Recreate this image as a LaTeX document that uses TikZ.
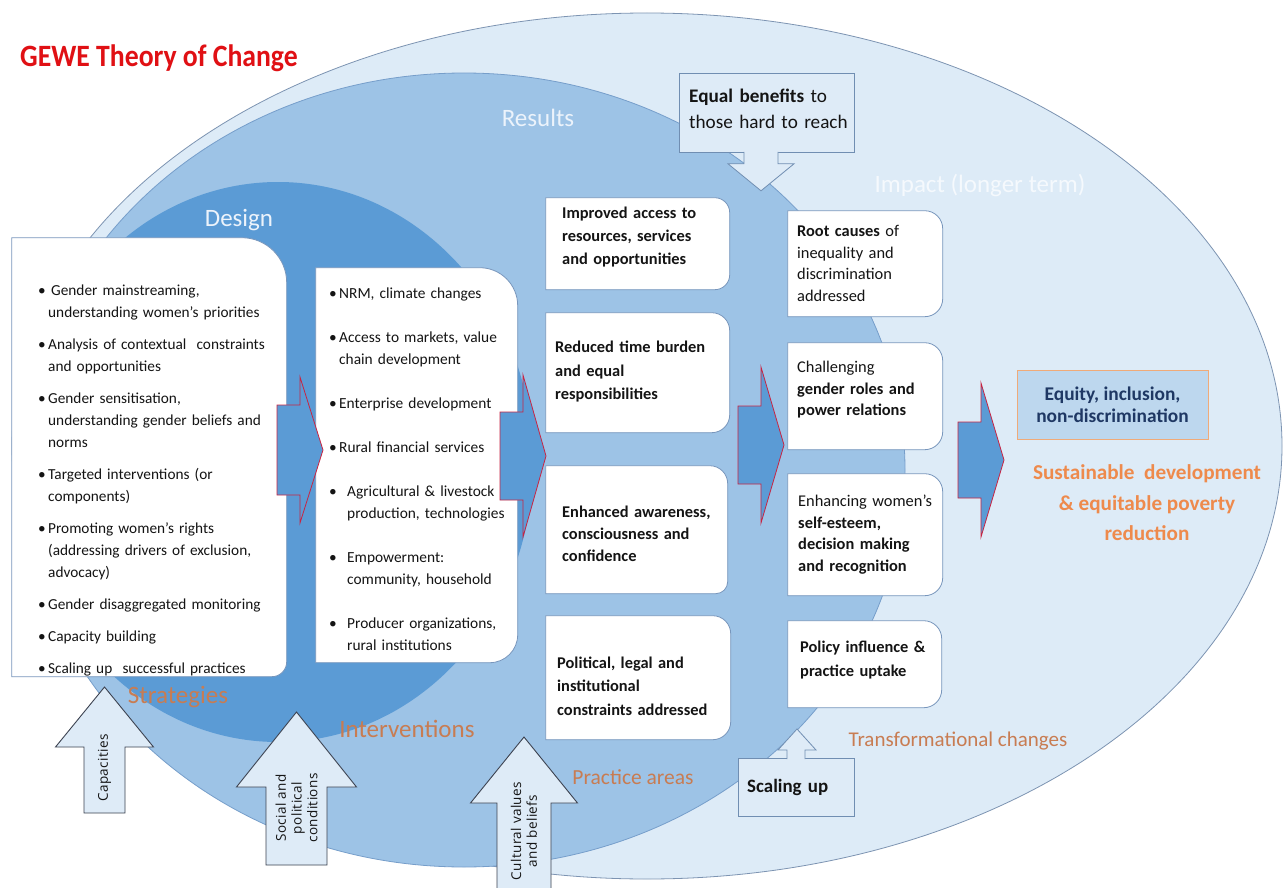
\documentclass[tikz,border=0pt]{standalone}
\usepackage{fontspec}
\setmainfont{Carlito}
\newfontfamily\arrowfont{Open Sans}
\usetikzlibrary{calc}

\definecolor{outerblue}{RGB}{221,235,247}
\definecolor{outerline}{RGB}{125,148,178}
\definecolor{resultblue}{RGB}{157,195,230}
\definecolor{resultline}{RGB}{118,158,202}
\definecolor{designblue}{RGB}{91,155,213}
\definecolor{boxline}{RGB}{120,150,188}
\definecolor{arrowred}{RGB}{200,36,66}
\definecolor{calloutblue}{RGB}{222,235,247}
\definecolor{calloutline}{RGB}{112,142,178}
\definecolor{uparrline}{RGB}{60,66,80}
\definecolor{titlered}{RGB}{224,16,20}
\definecolor{labelorange}{RGB}{200,124,82}
\definecolor{goalorange}{RGB}{238,138,76}
\definecolor{equityblue}{RGB}{189,215,238}
\definecolor{equityline}{RGB}{240,170,120}
\definecolor{equitytext}{RGB}{31,56,100}
\definecolor{textdark}{RGB}{20,20,20}
\definecolor{pale}{RGB}{236,243,251}

\newlength\bulgap
\newcommand\bul[2][10pt]{\par\hangindent=#1\hangafter=1\noindent\makebox[#1][l]{\textbullet}#2\par\vspace{\bulgap}}

\begin{document}
\begin{tikzpicture}[x=1pt,y=-1pt]
\tikzset{rbox/.style 2 args={inner sep=0pt, anchor=north west, path picture={
    \path[fill=white, draw=boxline, line width=0.8pt]
      ([shift={(0.5pt,-0.5pt)}]path picture bounding box.north west)
      [rounded corners=#1] -- ([shift={(-0.5pt,-0.5pt)}]path picture bounding box.north east)
      [rounded corners=#2] -- ([shift={(-0.5pt,0.5pt)}]path picture bounding box.south east)
      [sharp corners] -- ([shift={(0.5pt,0.5pt)}]path picture bounding box.south west)
      -- cycle;}}}
\tikzset{listtext/.style={inner sep=0pt, anchor=base west, text width=#1, align=left, text=textdark}}
\tikzset{c3text/.style={inner sep=0pt, anchor=base west, text width=180, align=left, text=textdark, font=\bfseries\fontsize{16.4}{23.5}\selectfont}}
\tikzset{c4text/.style={inner sep=0pt, anchor=base west, text width=150, align=left, text=textdark, font=\fontsize{16.4}{21.7}\selectfont}}
\tikzset{stagelabel/.style={inner sep=0pt, anchor=base, font=\fontsize{25}{30}\selectfont}}
\tikzset{blockarr/.style={fill=designblue, draw=arrowred, line width=0.8pt}}
\tikzset{callbox/.style={inner sep=0pt, anchor=north west, fill=calloutblue, draw=calloutline, line width=0.8pt}}
\tikzset{callpointer/.style={fill=calloutblue, draw=calloutline, line width=0.8pt}}
\tikzset{calltext/.style={inner sep=0pt, anchor=base west, text width=170, align=left, text=textdark, font=\fontsize{19.2}{25}\selectfont}}
\tikzset{uparr/.style={fill=calloutblue, draw=uparrline, line width=0.9pt}}
\tikzset{uptext/.style={inner sep=0pt, rotate=90, align=center, text=textdark, font=\arrowfont\addfontfeature{LetterSpace=3}\fontsize{13.5}{15.8}\selectfont}}

\useasboundingbox (0,0) rectangle (1285,888);
\fill[white] (0,0) rectangle (1285,888);

% the three stages
\draw[outerline, fill=outerblue, line width=0.8pt] (647,446) ellipse [x radius=635, y radius=433];
\draw[resultline, fill=resultblue, line width=0.8pt] (464,470) ellipse [x radius=441, y radius=397];
\fill[designblue] (278,462) ellipse [x radius=255, y radius=280];

\node[inner sep=0pt, anchor=base west, text=titlered, yscale=1.12, transform shape, font=\bfseries\fontsize{27.7}{33}\selectfont] (title) at (20,67) {GEWE Theory of Change};
\node[stagelabel, text=pale] (results) at (538,127) {Results};
\node[stagelabel, text=pale] (design) at (239,226) {Design};
\node[stagelabel, text=white!70!outerblue] (impact) at (980,192) {Impact (longer term)};
\node[stagelabel, text=labelorange] (strategies) at (178,703) {Strategies};
\node[stagelabel, text=labelorange] (interventions) at (407,737) {Interventions};
\node[stagelabel, text=labelorange, font=\fontsize{21.5}{26}\selectfont] (practice) at (633,784) {Practice areas};
\node[stagelabel, text=labelorange, font=\fontsize{21}{26}\selectfont] (transform) at (958,746) {Transformational changes};

% strategies
\node[rbox={45}{15}, minimum width=276, minimum height=440] (strat) at (11,237) {};
\node[listtext=245, font=\fontsize{15.3}{22}\selectfont, execute at begin node={\setlength{\bulgap}{10pt}}] (strat-list) at ([shift={(27,36.6)}]strat.north west) {%
\bul{\hspace{3pt}Gender mainstreaming,\newline understanding women’s priorities}
\bul{Analysis of contextual~ constraints\newline and opportunities}
\bul{Gender sensitisation,\newline understanding gender beliefs and\newline norms}
\bul{Targeted interventions (or\newline components)}
\bul{Promoting women’s rights\newline (addressing drivers of exclusion,\newline advocacy)}
\bul{Gender disaggregated monitoring}
\bul{Capacity building}
\bul{Scaling up~ successful practices}};

% interventions
\node[rbox={38}{28}, minimum width=203, minimum height=396] (interv) at (315,267) {};
\node[listtext=186, font=\fontsize{15.4}{22}\selectfont, execute at begin node={\setlength{\bulgap}{22pt}}] (interv-list) at ([shift={(14,9.6)}]interv.north west) {%
\bul{NRM, climate changes}
\bul{Access to markets, value\newline chain development}
\bul{Enterprise development}
\bul{Rural financial services}
\bul[18pt]{Agricultural \& livestock\newline production, technologies}
\bul[18pt]{Empowerment:\newline community, household}
\bul[18pt]{Producer organizations,\newline rural institutions}};

% practice areas
\node[rbox={15}{15}, minimum width=185, minimum height=93] (access) at (545,197) {};
\node[c3text] (access-t) at ([shift={(17,21)}]access.north west) {Improved access to\\resources, services\\and opportunities};
\node[rbox={18}{18}, minimum width=185, minimum height=121] (burden) at (545,312) {};
\node[c3text] (burden-t) at ([shift={(10,40.5)}]burden.north west) {Reduced time burden\\and equal\\responsibilities};
\node[rbox={18}{12}, minimum width=183, minimum height=129] (aware) at (545,465) {};
\node[c3text, font=\bfseries\fontsize{16.4}{22}\selectfont] (aware-t) at ([shift={(17,52.5)}]aware.north west) {Enhanced awareness,\\consciousness and\\confidence};
\node[rbox={18}{18}, minimum width=186, minimum height=125] (legal) at (545,615) {};
\node[c3text] (legal-t) at ([shift={(12,53)}]legal.north west) {Political, legal and\\institutional\\constraints addressed};

% transformational changes
\node[rbox={18}{18}, minimum width=156, minimum height=107] (roots) at (787,210) {};
\node[c4text] (roots-t) at ([shift={(10,26.5)}]roots.north west) {\textbf{Root causes} of\\inequality and\\discrimination\\addressed};
\node[rbox={18}{18}, minimum width=156, minimum height=108] (roles) at (787,342) {};
\node[c4text] (roles-t) at ([shift={(10,30.5)}]roles.north west) {Challenging\\\textbf{gender roles and}\\\textbf{power relations}};
\node[rbox={18}{18}, minimum width=156, minimum height=123] (esteem) at (787,473) {};
\node[c4text] (esteem-t) at ([shift={(11,33.5)}]esteem.north west) {Enhancing women’s\\\textbf{self-esteem,}\\\textbf{decision making}\\\textbf{and recognition}};
\node[rbox={18}{18}, minimum width=155, minimum height=88] (uptake) at (787,620) {};
\node[c4text, font=\bfseries\fontsize{16.4}{24}\selectfont] (uptake-t) at ([shift={(13,32.5)}]uptake.north west) {Policy influence \&\\practice uptake};

% block arrows between the columns
\foreach \tx/\cy/\sh/\hh in {277/450/45/73, 500/456/44/81, 738/445/39/78, 958/460/38/77}
  \draw[blockarr] (\tx,\cy-\sh) -- (\tx+23,\cy-\sh) -- (\tx+23,\cy-\hh) -- (\tx+46,\cy)
    -- (\tx+23,\cy+\hh) -- (\tx+23,\cy+\sh) -- (\tx,\cy+\sh) -- cycle;

% callouts
\node[callbox, minimum width=175, minimum height=79] (benefits) at (679,73) {};
\draw[callpointer] ([xshift=65pt,yshift=1pt]benefits.south west) -- ++(0,12) -- ++(-16,0) -- ++(33,27) -- ++(33,-27) -- ++(-16,0) -- ++(0,-12);
\node[calltext] (benefits-t) at ([shift={(10,30)}]benefits.north west) {\textbf{Equal benefits} to\\those hard to reach};

\node[callbox, minimum width=116, minimum height=58] (scaling) at (738,758) {};
\draw[callpointer] ([xshift=49pt,yshift=-1pt]scaling.north west) -- ++(0,-9) -- ++(-9,0) -- ++(19,-21) -- ++(19,21) -- ++(-11,0) -- ++(0,9);
\node[calltext, font=\bfseries\fontsize{18.9}{22}\selectfont] (scaling-t) at ([shift={(9,34)}]scaling.north west) {Scaling up};

% impact
\node[draw=equityline, fill=equityblue, line width=1pt, minimum width=191, minimum height=69, inner sep=0pt, align=center, text=equitytext, font=\bfseries\fontsize{19.4}{22.3}\selectfont] (equity) at (1112.5,405) {Equity, inclusion,\\non-discrimination};
\node[inner sep=0pt, align=center, text=goalorange, font=\bfseries\fontsize{21.2}{30.5}\selectfont] (goal) at (1147,503) {Sustainable~ development\\\& equitable poverty\\reduction};

% conditions pushing up
\foreach \n/\cx/\sw/\hw/\tp/\bs/\bt/\ty/\tx in {cap/104.5/20.5/49/687/747/813/768/{Capacities}, soc/296.5/30.5/60/712/787/865/808/{Social and\\political\\conditions}, cul/524/27/53.5/737/803/900/831/{Cultural values\\and beliefs}}
{
  \draw[uparr] (\cx-\sw,\bt) -- (\cx-\sw,\bs) -- (\cx-\hw,\bs) -- (\cx,\tp) -- (\cx+\hw,\bs) -- (\cx+\sw,\bs) -- (\cx+\sw,\bt) -- cycle;
  \node[uptext] (\n) at (\cx,\ty) {\tx};
}
\end{tikzpicture}
\end{document}
